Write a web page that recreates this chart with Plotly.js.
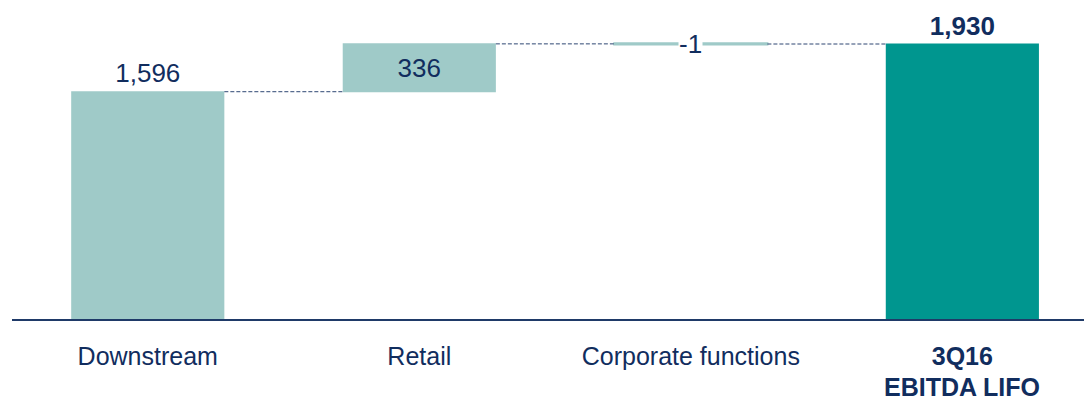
<!DOCTYPE html>
<html>
<head>
<meta charset="utf-8">
<script src="https://cdn.plot.ly/plotly-3.0.1.min.js"></script>
<style>
  html, body { margin: 0; padding: 0; background: #fff; }
  #chart { width: 1084px; height: 402px; }
</style>
</head>
<body>
<div id="chart"></div>
<script>
const categories = ["Downstream", "Retail", "Corporate functions", "3Q16 EBITDA LIFO"];
const tickLines1 = ["Downstream", "Retail", "Corporate functions", "<b>3Q16</b>"];
const totalLine2 = "<b>EBITDA LIFO</b>";
const values = [1596, 336, -1, 1930];
const measures = ["relative", "relative", "relative", "total"];
const labels = ["1,596", "336", "-1", "<b>1,930</b>"];

const light = "#9FCAC8";
const dark = "#00968F";
const navy = "#112D5E";
const font = "Liberation Sans, Arial, sans-serif";

// cumulative level for label placement of the small negative step
let running = 0;
const tops = values.map((v, i) => {
  if (measures[i] === "total") { running = v; } else { running += v; }
  return running;
});

const textpos = ["outside", "inside", "none", "outside"];
const textShown = labels.map((l, i) => i === 2 ? "" : l);

const trace = {
  type: "waterfall",
  x: categories,
  y: values,
  measure: measures,
  text: textShown,
  textposition: textpos,
  insidetextanchor: "middle",
  textfont: { family: font, size: 26, color: navy },
  insidetextfont: { family: font, size: 26, color: navy },
  outsidetextfont: { family: font, size: 26, color: navy },
  constraintext: "none",
  cliponaxis: false,
  width: 0.564,
  increasing: { marker: { color: light, line: { width: 0 } } },
  decreasing: { marker: { color: light, line: { color: light, width: 2 } } },
  totals: { marker: { color: dark, line: { width: 0 } } },
  connector: { mode: "between", line: { color: "#2E4773", width: 1, dash: "4px,2px" } },
  hoverinfo: "none"
};

const layout = {
  width: 1084,
  height: 402,
  margin: { l: 12, r: 0, t: 0, b: 83 },
  paper_bgcolor: "#fff",
  plot_bgcolor: "#fff",
  showlegend: false,
  font: { family: font, size: 26, color: navy },
  xaxis: {
    type: "category",
    range: [-0.5, 3.448],
    tickmode: "array",
    tickvals: categories,
    ticktext: tickLines1,
    showline: true,
    linecolor: "#1F3A68",
    linewidth: 2,
    ticks: "",
    showgrid: false,
    zeroline: false,
    ticklabelstandoff: 14,
    tickfont: { family: font, size: 25, color: navy },
    fixedrange: true
  },
  yaxis: {
    range: [0, 2240],
    visible: false,
    showgrid: false,
    zeroline: false,
    fixedrange: true
  },
  annotations: [{
    x: categories[2],
    y: tops[2],
    text: labels[2],
    showarrow: false,
    bgcolor: "#fff",
    font: { family: font, size: 26, color: navy },
    xanchor: "center",
    yanchor: "middle",
    borderpad: 0
  }, {
    x: categories[3],
    xref: "x",
    y: 0,
    yref: "paper",
    text: totalLine2,
    showarrow: false,
    font: { family: font, size: 25, color: navy },
    xanchor: "center",
    yanchor: "middle",
    borderpad: 0,
    yshift: -68
  }]
};

Plotly.newPlot("chart", [trace], layout, { displayModeBar: false, staticPlot: true });
</script>
</body>
</html>
